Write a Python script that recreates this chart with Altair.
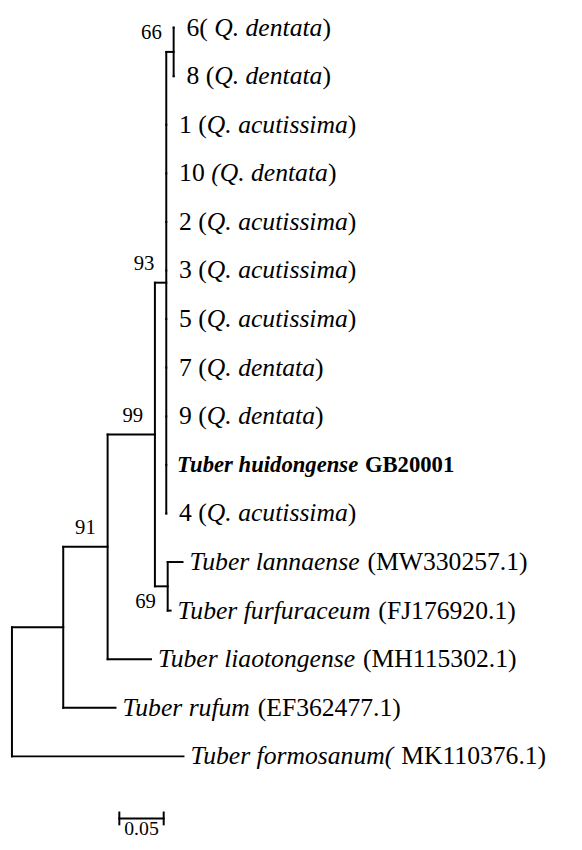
import altair as alt
import pandas as pd

# ---------------- data ----------------
# Leaf labels, top to bottom, as (text, style) segments
# style: r = regular, i = italic, b = bold, bi = bold italic
leaf_segments = [
    [("6( ", "r"), ("Q. dentata", "i"), (")", "r")],
    [("8 (", "r"), ("Q. dentata", "i"), (")", "r")],
    [("1 (", "r"), ("Q. acutissima", "i"), (")", "r")],
    [("10 ", "r"), ("(Q. dentata", "i"), (")", "r")],
    [("2 (", "r"), ("Q. acutissima", "i"), (")", "r")],
    [("3 (", "r"), ("Q. acutissima", "i"), (")", "r")],
    [("5 (", "r"), ("Q. acutissima", "i"), (")", "r")],
    [("7 (", "r"), ("Q. dentata", "i"), (")", "r")],
    [("9 (", "r"), ("Q. dentata", "i"), (")", "r")],
    [("Tuber huidongense ", "bi"), ("GB20001", "b")],
    [("4 (", "r"), ("Q. acutissima", "i"), (")", "r")],
    [("Tuber lannaense ", "i"), ("(MW330257.1)", "r")],
    [("Tuber furfuraceum ", "i"), ("(FJ176920.1)", "r")],
    [("Tuber liaotongense ", "i"), ("(MH115302.1)", "r")],
    [("Tuber rufum ", "i"), ("(EF362477.1)", "r")],
    [("Tuber formosanum( ", "i"), ("MK110376.1)", "r")],
]
leaf_parent = ["E", "E", "D", "D", "D", "D", "D", "D", "D", "D", "D",
               "F", "F", "B", "A", "R"]
leaf_branch = [0, 0, 0, 0, 0, 0, 0, 0, 0, 0, 0,
               0.0167, 0.0033, 0.0489, 0.0589, 0.1933]

# internal nodes
node_name = ["R", "A", "B", "C", "D", "E", "F"]
node_parent = [None, "R", "A", "B", "C", "D", "C"]
node_branch = [0.0, 0.0578, 0.05, 0.0533, 0.0128, 0.0083, 0.0144]
node_support = [None, None, 91, 99, 93, 66, 69]
node_support_side = [None, None, "above", "above", "above", "above", "below"]

scale_bar_length = 0.05
scale_bar_label = "0.05"

# ---------------- layout constants ----------------
W, H = 574, 834
PX = 900.0          # pixels per unit branch length
PY = 49.27          # pixels per leaf row
X0 = -4 / PX
X1 = X0 + W / PX
Y0 = -14 / PY
Y1 = Y0 + H / PY
FONT = "Liberation Serif"
FS = {"r": 26, "i": 26, "b": 23, "bi": 23}
BS_FS = 21
GAP = {"r": 13, "i": 7, "b": 11, "bi": 11}   # px between branch tip and label
SB_X = 0.121
SB_Y = (816 - 14) / PY

# Times New Roman advance widths (1/1000 em) for label segment placement
W_R = {" ": 250, "(": 333, ")": 333, ".": 250, "M": 889, "K": 722, "W": 944,
       "H": 722, "F": 556, "J": 389, "E": 611}
W_I = {" ": 250, "(": 333, ")": 333, ".": 250, "Q": 722, "T": 556, "a": 500,
       "b": 500, "c": 444, "d": 500, "e": 444, "f": 278, "g": 500, "h": 500,
       "i": 278, "l": 278, "m": 722, "n": 500, "o": 500, "r": 389, "s": 389,
       "t": 278, "u": 500}
W_B = {" ": 250, "G": 778, "B": 667}
W_BI = {" ": 250, "T": 611, "u": 556, "b": 500, "e": 444, "r": 389, "h": 556,
        "i": 278, "d": 500, "o": 500, "n": 556, "g": 500, "s": 389}
TABLES = {"r": W_R, "i": W_I, "b": W_B, "bi": W_BI}


def text_width(s, style):
    t = TABLES[style]
    return sum(t.get(ch, 500) for ch in s) * FS[style] / 1000.0


# ---------------- tree layout ----------------
parent_of = dict(zip(node_name, node_parent))
branch_of = dict(zip(node_name, node_branch))
children = {n: [] for n in node_name}
for n, p in zip(node_name, node_parent):
    if p is not None:
        children[p].append(("node", n))
for i, p in enumerate(leaf_parent):
    children[p].append(("leaf", i))

node_x = {}


def get_node_x(n):
    if n not in node_x:
        p = parent_of[n]
        node_x[n] = 0.0 if p is None else get_node_x(p) + branch_of[n]
    return node_x[n]


node_y = {}


def child_y(c):
    kind, v = c
    return float(v) if kind == "leaf" else get_node_y(v)


def get_node_y(n):
    if n not in node_y:
        ys = [child_y(c) for c in children[n]]
        node_y[n] = (min(ys) + max(ys)) / 2.0
    return node_y[n]


for n in node_name:
    get_node_x(n)
    get_node_y(n)

leaf_x = [node_x[p] + b for p, b in zip(leaf_parent, leaf_branch)]

rules = []
for n in node_name:
    ys = [child_y(c) for c in children[n]]
    rules.append(dict(x=node_x[n], x2=node_x[n], y=min(ys), y2=max(ys)))
    for c in children[n]:
        kind, v = c
        cx = leaf_x[v] if kind == "leaf" else node_x[v]
        cy = child_y(c)
        rules.append(dict(x=node_x[n], x2=cx, y=cy, y2=cy))
# scale bar
tick = 6 / PY
rules.append(dict(x=SB_X, x2=SB_X + scale_bar_length, y=SB_Y, y2=SB_Y))
rules.append(dict(x=SB_X, x2=SB_X, y=SB_Y - tick, y2=SB_Y + tick))
rules.append(dict(x=SB_X + scale_bar_length, x2=SB_X + scale_bar_length,
                  y=SB_Y - tick, y2=SB_Y + tick))
rules_df = pd.DataFrame(rules)

labels = []
for i, segs in enumerate(leaf_segments):
    off = GAP[segs[0][1]]
    for txt, st in segs:
        labels.append(dict(x=leaf_x[i] + off / PX, y=float(i),
                           text=txt.strip(), style=st))
        off += text_width(txt, st)
labels_df = pd.DataFrame(labels)

sup = []
for n, s, side in zip(node_name, node_support, node_support_side):
    if s is None:
        continue
    dy = -19 if side == "above" else 16
    sup.append(dict(x=node_x[n] - 12 / PX, y=node_y[n] + dy / PY, text=str(s)))
sup_df = pd.DataFrame(sup)

sb_df = pd.DataFrame([dict(x=SB_X + scale_bar_length / 2, y=(833 - 14) / PY,
                           text=scale_bar_label)])

# ---------------- chart ----------------
xs = alt.Scale(domain=[X0, X1], nice=False, zero=False)
ys = alt.Scale(domain=[Y0, Y1], nice=False, zero=False, reverse=True)
X = alt.X("x:Q", scale=xs, axis=None)
Y = alt.Y("y:Q", scale=ys, axis=None)

branches = alt.Chart(rules_df).mark_rule(
    color="black", strokeWidth=2, strokeCap="square"
).encode(x=X, x2="x2:Q", y=Y, y2="y2:Q")

style_props = {
    "r": dict(fontStyle="normal", fontWeight="normal"),
    "i": dict(fontStyle="italic", fontWeight="normal"),
    "b": dict(fontStyle="normal", fontWeight="bold"),
    "bi": dict(fontStyle="italic", fontWeight="bold"),
}
text_layers = []
for st, props in style_props.items():
    sub = labels_df[labels_df["style"] == st]
    if len(sub) == 0:
        continue
    text_layers.append(
        alt.Chart(sub).mark_text(
            align="left", baseline="middle", font=FONT, fontSize=FS[st],
            color="black", **props
        ).encode(x=X, y=Y, text="text:N")
    )

support = alt.Chart(sup_df).mark_text(
    align="right", baseline="middle", font=FONT, fontSize=BS_FS, color="black"
).encode(x=X, y=Y, text="text:N")

sb_text = alt.Chart(sb_df).mark_text(
    align="center", baseline="alphabetic", font=FONT, fontSize=20, color="black"
).encode(x=X, y=Y, text="text:N")

chart = alt.layer(branches, *text_layers, support, sb_text).properties(
    width=W, height=H, padding=0,
    autosize=alt.AutoSizeParams(type="none"),
    background="white",
).configure_view(stroke=None)

chart.save("out.html", embed_options={"renderer": "svg", "actions": False})
